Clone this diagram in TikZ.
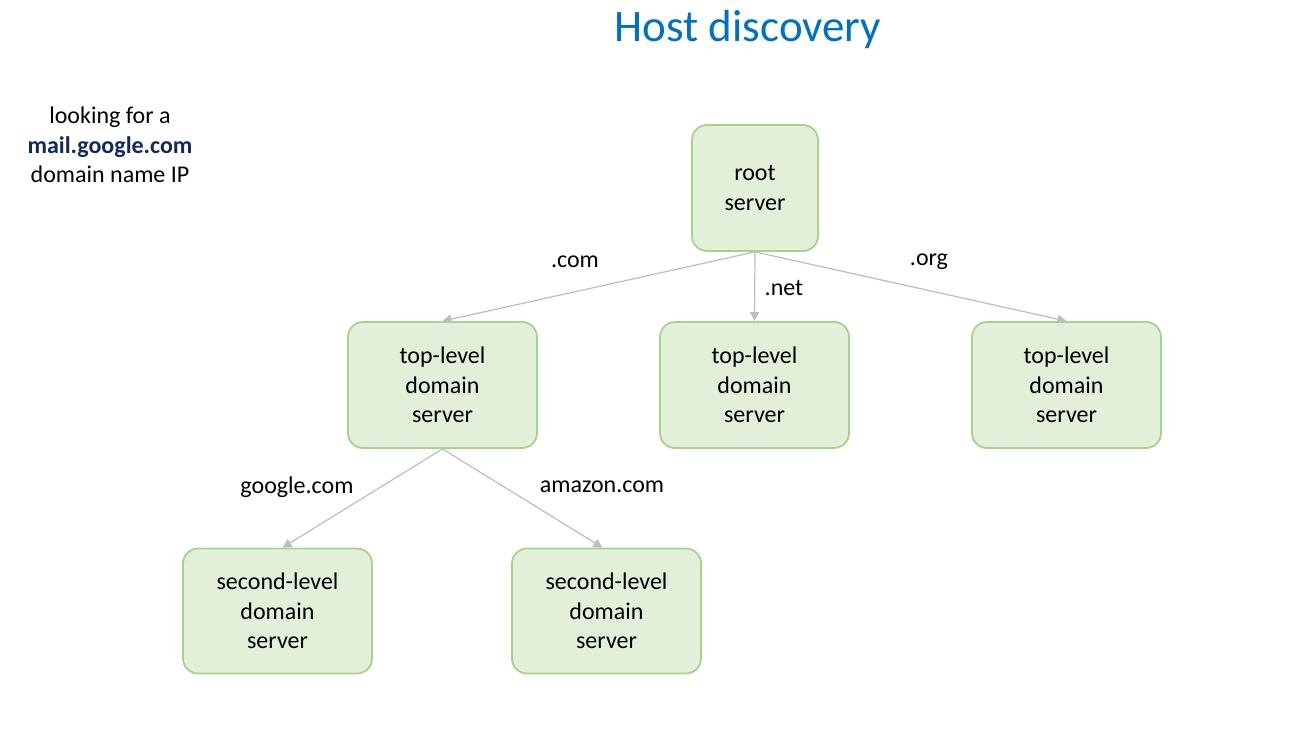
\documentclass[tikz,border=0pt]{standalone}
\usepackage{fontspec}
\setmainfont{Carlito}
\usetikzlibrary{arrows.meta,calc}
\definecolor{boxfill}{HTML}{E2F0D9}
\definecolor{boxline}{HTML}{A9D18E}
\definecolor{arrowgray}{HTML}{BDBDBD}
\definecolor{titleblue}{HTML}{0070C0}
\definecolor{darkblue}{HTML}{12285E}
\tikzset{
  server/.style={draw=boxline, fill=boxfill, line width=1.8pt, rounded corners=15pt,
    align=center, inner sep=0pt, font=\fontsize{24}{29.5}\selectfont},
  link/.style={draw=arrowgray, line width=1.2pt, -{Triangle[length=9pt,width=9pt]}},
  lbl/.style={font=\fontsize{24}{29.5}\selectfont, inner sep=0pt}
}
\begin{document}
\begin{tikzpicture}[x=1pt,y=-1pt]
\useasboundingbox (0,0) rectangle (1304,735);
\node[font=\fontsize{45}{54}\selectfont, text=titleblue] (title) at (748,30) {Host discovery};
\node[lbl, align=center] (query) at (110,145) {looking for a\\\textbf{\textcolor{darkblue}{mail.google.com}}\\domain name IP};
\node[server, minimum width=126pt, minimum height=126pt] (root) at (755,188) {root\\server};
\node[server, minimum width=189pt, minimum height=126pt] (t1) at (442.5,385) {top-level\\domain\\server};
\node[server, minimum width=189pt, minimum height=126pt] (t2) at (754.5,385) {top-level\\domain\\server};
\node[server, minimum width=189pt, minimum height=126pt] (t3) at (1066.5,385) {top-level\\domain\\server};
\node[server, minimum width=189pt, minimum height=125pt] (s1) at (277.5,611) {second-level\\domain\\server};
\node[server, minimum width=189pt, minimum height=125pt] (s2) at (606.5,611) {second-level\\domain\\server};
\draw[link] (root.south) -- (t1.north);
\draw[link] (root.south) -- (t2.north);
\draw[link] (root.south) -- (t3.north);
\draw[link] (t1.south) -- ($(s1.north)+(5,0)$);
\draw[link] (t1.south) -- ($(s2.north)+(-4,0)$);
\node[lbl] (lcom) at (575,262) {.com};
\node[lbl] (lnet) at (784,288) {.net};
\node[lbl] (lorg) at (929,262) {.org};
\node[lbl] (lgoogle) at (297,487) {google.com};
\node[lbl] (lamazon) at (602,487) {amazon.com};
\end{tikzpicture}
\end{document}
